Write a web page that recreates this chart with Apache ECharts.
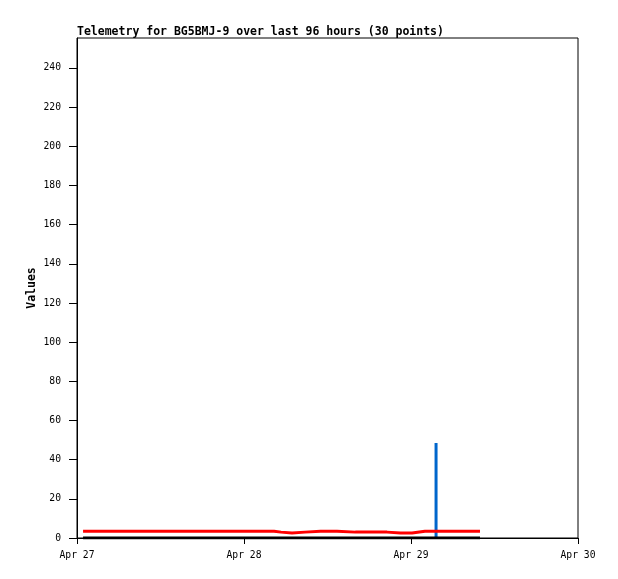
<!DOCTYPE html>
<html>
<head>
<meta charset="utf-8">
<script src="https://cdn.jsdelivr.net/npm/echarts@6/dist/echarts.min.js"></script>
<style>
  html, body { margin: 0; padding: 0; background: #fff; }
  #main { width: 618px; height: 579px; }
</style>
</head>
<body>
<div id="main"></div>
<script>
// hours after Apr 27 00:00 for each of the 30 samples
const sampleHours = [0.87, 3, 5, 7, 9, 11, 13, 15, 17, 19, 21, 23, 25, 27, 28.32,
  29.32, 30.9, 32.77, 35, 37.37, 40, 42, 44.55, 46.5, 48.15, 50, 51.6, 54, 56, 57.92];
const redValues = [3.5, 3.5, 3.5, 3.5, 3.5, 3.5, 3.5, 3.5, 3.5, 3.5, 3.5, 3.5, 3.5, 3.5, 3.0,
  2.5, 3.0, 3.5, 3.5, 3.0, 3.0, 3.0, 2.5, 2.5, 3.5, 3.5, 3.5, 3.5, 3.5, 3.5];
const blackValues = [0, 0, 0, 0, 0, 0, 0, 0, 0, 0, 0, 0, 0, 0, 0,
  0, 0, 0, 0, 0, 0, 0, 0, 0, 0, 0, 0, 0, 0, 0];
const blueValues = [0, 0, 0, 0, 0, 0, 0, 0, 0, 0, 0, 0, 0, 0, 0,
  0, 0, 0, 0, 0, 0, 0, 0, 0, 0, 0, 48.5, 0, 0, 0];
const yTicks = [0, 20, 40, 60, 80, 100, 120, 140, 160, 180, 200, 220, 240];
const dayLabels = ['Apr 27', 'Apr 28', 'Apr 29', 'Apr 30'];

const font = 'DejaVu Sans Mono';
const chart = echarts.init(document.getElementById('main'));
chart.setOption({
  animation: false,
  title: {
    text: 'Telemetry for BG5BMJ-9 over last 96 hours (30 points)',
    left: 72, top: 21,
    textStyle: { fontFamily: font, fontSize: 11.5, fontWeight: 'bold', color: '#000' }
  },
  grid: { left: 77, top: 38, right: 40, bottom: 41, show: true, borderColor: '#000', borderWidth: 1 },
  xAxis: {
    type: 'value',
    min: 0, max: 72, interval: 24,
    axisLine: { lineStyle: { color: '#000', width: 1 } },
    axisTick: { length: 6, lineStyle: { color: '#000' } },
    axisLabel: {
      margin: 12, color: '#000',
      fontFamily: font, fontSize: 9.7,
      formatter: v => dayLabels[Math.round(v / 24)]
    },
    splitLine: { show: false }
  },
  yAxis: {
    type: 'value', min: 0, max: 255.3,
    name: 'Values', nameLocation: 'middle', nameGap: 39, nameMoveOverlap: false,
    nameTextStyle: { fontFamily: font, fontSize: 11.5, fontWeight: 'bold', color: '#000' },
    axisLine: { show: true, lineStyle: { color: '#000', width: 1 } },
    axisTick: { show: true, length: 8, lineStyle: { color: '#000' }, customValues: yTicks },
    axisLabel: { customValues: yTicks, margin: 16, color: '#000', fontFamily: font, fontSize: 9.7 },
    splitLine: { show: false }
  },
  series: [
    {
      type: 'line', step: 'end', symbol: 'none',
      data: sampleHours.map((h, i) => [h, blackValues[i]]),
      lineStyle: { color: '#000', width: 3 }
    },
    {
      type: 'line', step: 'end', symbol: 'none',
      data: sampleHours.map((h, i) => [h, redValues[i]]),
      lineStyle: { color: '#ff0000', width: 3 }
    },
    {
      type: 'bar', barWidth: 3,
      data: sampleHours.map((h, i) => [h, blueValues[i]]),
      itemStyle: { color: '#0066cc' }
    }
  ]
});
</script>
</body>
</html>
